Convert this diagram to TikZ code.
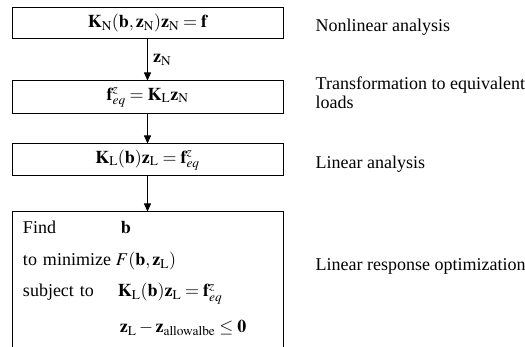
\documentclass[tikz,border=0pt]{standalone}
\usepackage{mathptmx}
\usepackage{fontspec}
\setmainfont{Liberation Serif}
\usetikzlibrary{arrows.meta,positioning}
\newcommand{\vK}{\mathbf{K}}
\newcommand{\vz}{\mathbf{z}}
\newcommand{\feq}{\mathbf{f}^{z}_{eq}}

\begin{document}
\begin{tikzpicture}[
    x=1pt, y=1pt,
    every node/.style={font=\fontsize{18}{19}\selectfont},
    stepbox/.style={draw, line width=1pt, minimum width=271pt, inner sep=0pt, align=center},
    lbl/.style={anchor=west, align=left, inner sep=0pt},
    arr/.style={-{Triangle[length=8pt,width=7pt]}, line width=0.8pt}
  ]
  \useasboundingbox (0,0) rectangle (525,-347);
  % Process chain
  \node[stepbox, minimum height=31pt] (nonlin) at (147.5,-23.5)
    {$\vK_{\mathrm{N}}(\mathbf{b},\vz_{\mathrm{N}})\vz_{\mathrm{N}}=\mathbf{f}$};
  \node[stepbox, minimum height=33pt, below=41pt of nonlin] (transf)
    {$\feq=\vK_{\mathrm{L}}\vz_{\mathrm{N}}$};
  \node[stepbox, minimum height=32pt, below=29pt of transf] (lin)
    {$\vK_{\mathrm{L}}(\mathbf{b})\vz_{\mathrm{L}}=\feq$};
  \node[stepbox, minimum height=145pt, text width=249pt, inner xsep=11pt,
        align=left, below=35pt of lin] (opt)
    {\begin{tabular}{@{}l@{\hspace{5pt}}l@{}}
      Find & \hspace{5pt}$\mathbf{b}$\\[13pt]
      to minimize & $F(\mathbf{b},\vz_{\mathrm{L}})$\\[12pt]
      subject to & \hspace{2pt}$\vK_{\mathrm{L}}(\mathbf{b})\vz_{\mathrm{L}}=\feq$\\[17pt]
      & \hspace{4pt}$\vz_{\mathrm{L}}-\vz_{\mathrm{allowalbe}}\le\mathbf{0}$\\[10pt]
    \end{tabular}};

  % Right: what each step is
  \node[lbl, right=32pt of nonlin, yshift=-3.5pt] (lnonlin) {Nonlinear analysis};
  \node[lbl, right=32pt of transf, yshift=5pt] (ltransf) {Transformation to equivalent\\loads};
  \node[lbl, right=32pt of lin, yshift=-4pt] (llin) {Linear analysis};
  \node[lbl, right=32pt of opt, yshift=18pt] (lopt) {Linear response optimization};

  \draw[arr] (nonlin) -- (transf) node[midway, right, xshift=2pt] {$\vz_{\mathrm{N}}$};
  \draw[arr] (transf) -- (lin);
  \draw[arr] (lin) -- (opt);
\end{tikzpicture}
\end{document}
